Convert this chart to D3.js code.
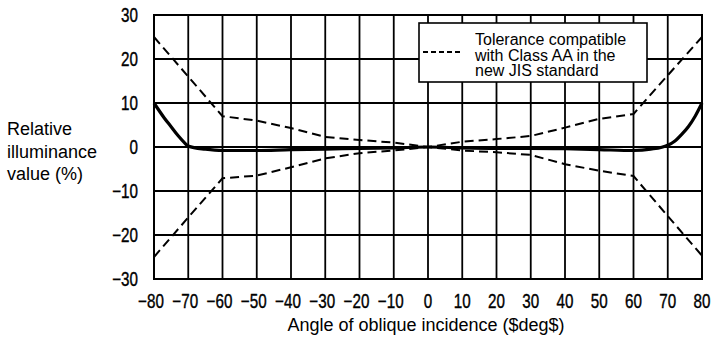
<!DOCTYPE html>
<html>
<head>
<meta charset="utf-8">
<script src="https://cdn.jsdelivr.net/npm/d3@7"></script>
<style>
  body { margin: 0; background: #fff; }
  svg { display: block; }
  .tick-label { font-family: "Liberation Sans", Arial, sans-serif; font-size: 20px; fill: #000; stroke: #000; stroke-width: 0.4px; }
  .label { font-family: "Liberation Sans", Arial, sans-serif; font-size: 18px; fill: #000; }
  .legend-text { font-family: "Liberation Sans", Arial, sans-serif; font-size: 16px; fill: #000; }
</style>
</head>
<body>
<div id="chart"></div>
<script>
const width = 712;
const height = 337;

// angle ticks and the tolerance band (Class AA, new JIS)
const angles = [-80, -70, -60, -50, -40, -30, -20, -10, 0, 10, 20, 30, 40, 50, 60, 70, 80];
const tolUpper = [25, 16, 7, 6, 4.3, 2.3, 1.6, 1.0, 0, 1.2, 1.8, 2.5, 4.4, 6.4, 7.5, 16.3, 25];
const tolLower = [-25, -16, -7.1, -6.5, -4.6, -2.6, -1.4, -0.8, 0, -0.8, -1.2, -1.8, -3.9, -5.4, -6.6, -15.7, -24.7];

// measured relative illuminance (solid curve)
const measuredAngles = [-80, -77, -75, -73, -71, -70, -65, -60, -50, -40, -30, -20, -10, 0, 10, 20, 30, 40, 50, 60, 65, 70, 72, 74, 76, 78, 80];
const measuredValues = [10, 6.6, 4.6, 2.6, 0.9, 0.2, -0.5, -0.8, -0.8, -0.6, -0.5, -0.3, -0.2, 0, -0.2, -0.3, -0.3, -0.4, -0.6, -0.8, -0.5, 0.4, 1.3, 2.8, 4.6, 7.0, 10];

const xTicks = angles;
const yTicks = [-30, -20, -10, 0, 10, 20, 30];
const legendLines = ["Tolerance compatible", "with Class AA in the", "new JIS standard"];

const margin = { top: 15, right: 10, bottom: 58, left: 154 };

const svg = d3.select('#chart')
  .append('svg')
  .attr('width', width)
  .attr('height', height);

const x = d3.scaleLinear().domain([-80, 80]).range([margin.left, width - margin.right]);
const y = d3.scaleLinear().domain([-30, 30]).range([height - margin.bottom, margin.top]);

// grid
svg.append('g')
  .selectAll('line')
  .data(xTicks)
  .join('line')
  .attr('x1', d => x(d)).attr('x2', d => x(d))
  .attr('y1', y(-30)).attr('y2', y(30))
  .attr('stroke', '#000')
  .attr('stroke-width', 1.8);

svg.append('g')
  .selectAll('line')
  .data(yTicks)
  .join('line')
  .attr('x1', x(-80)).attr('x2', x(80))
  .attr('y1', d => y(d)).attr('y2', d => y(d))
  .attr('stroke', '#000')
  .attr('stroke-width', 1.8);

// plot border
svg.append('rect')
  .attr('x', x(-80)).attr('y', y(30))
  .attr('width', x(80) - x(-80)).attr('height', y(-30) - y(30))
  .attr('fill', 'none')
  .attr('stroke', '#000')
  .attr('stroke-width', 2);

// tick labels: condensed look by squeezing horizontally
const fmt = d => d < 0 ? '\u2212' + Math.abs(d) : String(d);
const squeeze = 0.76;

svg.append('g')
  .selectAll('text')
  .data(xTicks)
  .join('text')
  .attr('class', 'tick-label')
  .attr('transform', d => `translate(${x(d) - (d < 0 ? 3 : 0)},308) scale(${squeeze},1)`)
  .attr('text-anchor', 'middle')
  .text(fmt);

svg.append('g')
  .selectAll('text')
  .data(yTicks)
  .join('text')
  .attr('class', 'tick-label')
  .attr('transform', d => `translate(138,${y(d)}) scale(${squeeze},1)`)
  .attr('dy', '0.36em')
  .attr('text-anchor', 'end')
  .text(fmt);

// tolerance lines
const line = d3.line().x(d => x(d[0])).y(d => y(d[1]));

[tolUpper, tolLower].forEach(vals => {
  svg.append('path')
    .datum(angles.map((a, i) => [a, vals[i]]))
    .attr('d', line)
    .attr('fill', 'none')
    .attr('stroke', '#000')
    .attr('stroke-width', 2)
    .attr('stroke-dasharray', '9,5');
});

// measured curve
svg.append('path')
  .datum(measuredAngles.map((a, i) => [a, measuredValues[i]]))
  .attr('d', line.curve(d3.curveMonotoneX))
  .attr('fill', 'none')
  .attr('stroke', '#000')
  .attr('stroke-width', 3.2);

// legend
const legend = svg.append('g');
legend.append('rect')
  .attr('x', 419).attr('y', 23)
  .attr('width', 228).attr('height', 59)
  .attr('fill', '#fff')
  .attr('stroke', '#000')
  .attr('stroke-width', 1.6);
legend.append('line')
  .attr('x1', 423).attr('x2', 462)
  .attr('y1', 52).attr('y2', 52)
  .attr('stroke', '#000')
  .attr('stroke-width', 2)
  .attr('stroke-dasharray', '5,3');
legend.selectAll('text.legend-text')
  .data(legendLines)
  .join('text')
  .attr('class', 'legend-text')
  .attr('x', 475)
  .attr('y', (d, i) => 45 + i * 15.5)
  .text(d => d);

// axis titles
svg.append('text')
  .attr('class', 'label')
  .attr('x', 426)
  .attr('y', 331)
  .attr('text-anchor', 'middle')
  .text('Angle of oblique incidence ($deg$)');

svg.append('text')
  .attr('class', 'label')
  .selectAll('tspan')
  .data(['Relative', 'illuminance', 'value (%)'])
  .join('tspan')
  .attr('x', 7)
  .attr('y', (d, i) => 135 + i * 22.5)
  .text(d => d);
</script>
</body>
</html>
